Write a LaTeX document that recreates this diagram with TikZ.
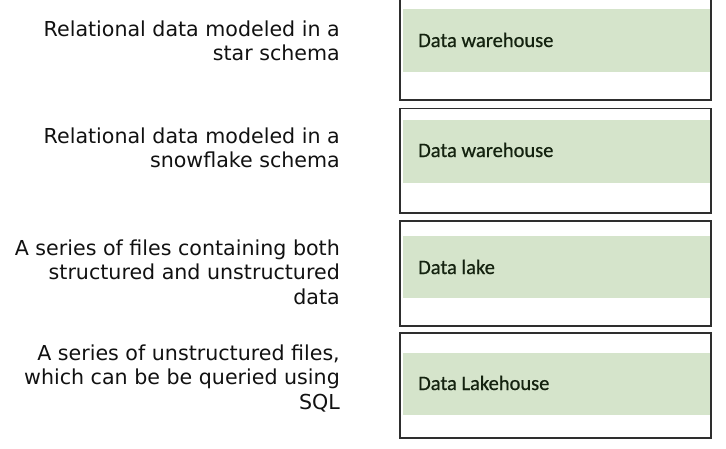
\documentclass[tikz,border=0pt]{standalone}
\usepackage{fontspec}
\setmainfont{DejaVu Sans}
\newfontfamily\boxfont[FakeBold=0.7]{Carlito}
\definecolor{bandgreen}{HTML}{D5E4CB}
\definecolor{boxtext}{HTML}{14220F}
\definecolor{lefttext}{HTML}{111111}
\definecolor{frame}{HTML}{2E2E2E}
\begin{document}
\begin{tikzpicture}[x=1pt,y=-1pt,
  frameline/.style={draw=frame,line width=1.3pt},
  band/.style={fill=bandgreen,draw=none},
  answer/.style={anchor=base west,inner sep=0pt,text=boxtext,font=\boxfont\fontsize{20.5}{24}\selectfont},
  prompt/.style={anchor=north east,inner sep=0pt,align=right,text=lefttext,font=\fontsize{20.6}{24.5}\selectfont}]
\useasboundingbox (0,0) rectangle (726,448);
% boxes
\draw[frameline] (400,-5) rectangle (711,100);
\draw[frameline] (400,108.5) rectangle (711,213);
\draw[frameline] (400,221) rectangle (711,326);
\draw[frameline] (400,333) rectangle (711,438);
% bands
\fill[band] (403,9) rectangle (709.5,72);
\fill[band] (403,120) rectangle (709.5,183);
\fill[band] (403,236) rectangle (709.5,298);
\fill[band] (403,353) rectangle (709.5,415);
% answers
\node[answer] (a1) at (418,47) {Data warehouse};
\node[answer] (a2) at (418,157) {Data warehouse};
\node[answer] (a3) at (418,274) {Data lake};
\node[answer] (a4) at (418,390) {Data Lakehouse};
% prompts
\node[prompt] (p1) at (340,20.3) {Relational data modeled in a\\star schema};
\node[prompt] (p2) at (340,127.3) {Relational data modeled in a\\snowflake schema};
\node[prompt] (p3) at (340,239.3) {A series of files containing both\\structured and unstructured\\data};
\node[prompt] (p4) at (340,344.3) {A series of unstructured files,\\which can be be queried using\\SQL};
\end{tikzpicture}
\end{document}
